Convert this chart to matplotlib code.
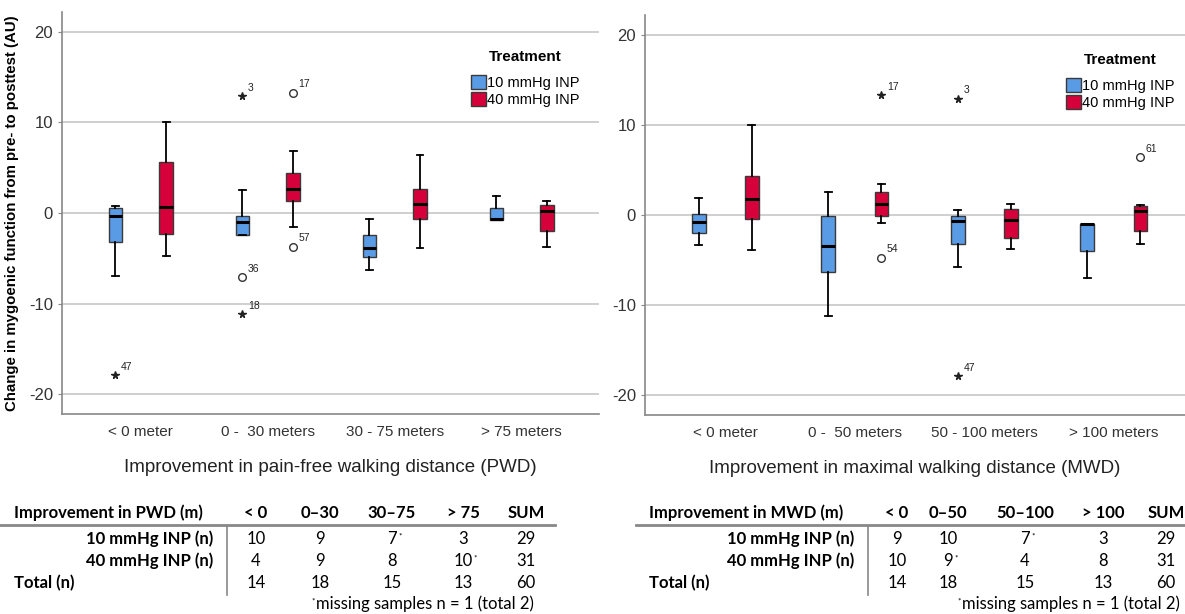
import matplotlib
matplotlib.use("Agg")
import matplotlib.pyplot as plt
from matplotlib.patches import Patch
from matplotlib.lines import Line2D

# ---- data ----
pwd_cats = ["< 0 meter", "0 -  30 meters", "30 - 75 meters", "> 75 meters"]
mwd_cats = ["< 0 meter", "0 -  50 meters", "50 - 100 meters", "> 100 meters"]
treatments = ["10 mmHg INP", "40 mmHg INP"]

pwd_10_whislo = [-7.0, -2.43, -6.33, -0.8]
pwd_10_q1 = [-3.24, -2.43, -4.9, -0.77]
pwd_10_med = [-0.37, -0.96, -3.87, -0.66]
pwd_10_q3 = [0.55, -0.37, -2.47, 0.55]
pwd_10_whishi = [0.81, 2.5, -0.63, 1.9]

pwd_40_whislo = [-4.75, -1.5, -3.87, -3.76]
pwd_40_q1 = [-2.3, 1.3, -0.66, -2.0]
pwd_40_med = [0.7, 2.6, 1.0, 0.22]
pwd_40_q3 = [5.6, 4.4, 2.6, 0.85]
pwd_40_whishi = [10.05, 6.9, 6.4, 1.36]

# outliers: (value, case number, marker)
pwd_10_out = [[(-17.9, "47", "*")], [(12.9, "3", "*"), (-7.1, "36", "o"), (-11.2, "18", "*")], [], []]
pwd_40_out = [[], [(13.3, "17", "o"), (-3.7, "57", "o")], [], []]

mwd_10_whislo = [-3.33, -11.24, -5.8, -7.0]
mwd_10_q1 = [-1.96, -6.36, -3.25, -4.0]
mwd_10_med = [-0.78, -3.44, -0.63, -1.04]
mwd_10_q3 = [0.07, -0.1, -0.07, -1.04]
mwd_10_whishi = [1.9, 2.5, 0.55, -1.04]

mwd_40_whislo = [-3.85, -0.92, -3.77, -3.18]
mwd_40_q1 = [-0.4, -0.07, -2.5, -1.77]
mwd_40_med = [1.74, 1.22, -0.6, 0.48]
mwd_40_q3 = [4.3, 2.6, 0.67, 0.96]
mwd_40_whishi = [10.0, 3.4, 1.26, 1.15]

mwd_10_out = [[], [], [(12.9, "3", "*"), (-17.9, "47", "*")], []]
mwd_40_out = [[], [(13.3, "17", "*"), (-4.77, "54", "o")], [], [(6.4, "61", "o")]]

# tables
pwd_tab_head = ["Improvement in PWD (m)", "< 0", "0–30", "30–75", "> 75", "SUM"]
pwd_tab_10 = ["10", "9", "7*", "3", "29"]
pwd_tab_40 = ["4", "9", "8", "10*", "31"]
pwd_tab_tot = ["14", "18", "15", "13", "60"]

mwd_tab_head = ["Improvement in MWD (m)", "< 0", "0–50", "50–100", "> 100", "SUM"]
mwd_tab_10 = ["9", "10", "7*", "3", "29"]
mwd_tab_40 = ["10", "9*", "4", "8", "31"]
mwd_tab_tot = ["14", "18", "15", "13", "60"]

row_labels = ["10 mmHg INP (n)", "40 mmHg INP (n)", "Total (n)"]
footnote = "missing samples n = 1 (total 2)"

blue = "#5a9be6"
red = "#d6003a"
W, H = 1185, 614

plt.rcParams["font.family"] = ["Liberation Sans", "DejaVu Sans"]
plt.rcParams["axes.unicode_minus"] = False
fig = plt.figure(figsize=(W / 100, H / 100), dpi=100)


def px(x, y):
    return x / W, 1 - y / H


def make_stats(lo, q1, med, q3, hi):
    return [dict(whislo=a, q1=b, med=c, q3=d, whishi=e, fliers=[])
            for a, b, c, d, e in zip(lo, q1, med, q3, hi)]


def panel(rect, cats, s10, s40, out10, out40, xlabel, xlim, off, legx):
    ax = fig.add_axes(rect)
    for stats, outs, col, sign in [(s10, out10, blue, -1), (s40, out40, red, 1)]:
        pos = [i + sign * off for i in range(len(cats))]
        ax.bxp(stats, positions=pos, widths=0.105, capwidths=0.055, patch_artist=True,
               showfliers=False,
               boxprops=dict(facecolor=col, edgecolor="#3a3a3a", linewidth=1.0),
               medianprops=dict(color="black", linewidth=2.2),
               whiskerprops=dict(color="black", linewidth=1.3),
               capprops=dict(color="black", linewidth=1.3), zorder=3)
        for p, group in zip(pos, outs):
            for v, case, m in group:
                if m == "*":
                    ax.plot(p, v, marker="*", color="#222222", ms=5.5, ls="none", zorder=4)
                else:
                    ax.plot(p, v, marker="o", mfc="white", mec="#333333", ms=5.5, mew=1,
                            ls="none", zorder=4)
                ax.annotate(case, (p, v), xytext=(4, 4), textcoords="offset points",
                            fontsize=7.5, color="#222222")
    ax.set_xlim(*xlim)
    ax.set_ylim(-22.2, 22.2)
    ax.set_yticks([-20, -10, 0, 10, 20])
    ax.set_xticks(range(len(cats)))
    ax.set_xticklabels(cats)
    ax.tick_params(axis="x", length=0, pad=8, labelsize=11, labelcolor="#333333")
    ax.tick_params(axis="y", length=3, color="#888888", labelsize=12, labelcolor="#333333")
    ax.yaxis.grid(True, color="#cccccc", lw=1.3, zorder=0)
    ax.set_axisbelow(True)
    for s in ["top", "right"]:
        ax.spines[s].set_visible(False)
    for s in ["left", "bottom"]:
        ax.spines[s].set_color("#888888")
        ax.spines[s].set_linewidth(1.2)
    ax.set_xlabel(xlabel, fontsize=13.5, color="#222222", labelpad=14)
    handles = [Patch(facecolor=blue, edgecolor="#3a3a3a"), Patch(facecolor=red, edgecolor="#3a3a3a")]
    leg = ax.legend(handles, treatments, title="Treatment", loc="upper left",
                    bbox_to_anchor=(legx, 0.905), frameon=False, fontsize=10.5,
                    handlelength=1.0, handleheight=1.1, handletextpad=0.1,
                    labelspacing=0.15, borderpad=0, borderaxespad=0)
    leg.get_title().set_fontweight("bold")
    leg.get_title().set_fontsize(11)
    leg._legend_box.sep = 8
    return ax


ax1 = panel([62 / W, 1 - 414 / H, 537 / W, 402 / H], pwd_cats,
            make_stats(pwd_10_whislo, pwd_10_q1, pwd_10_med, pwd_10_q3, pwd_10_whishi),
            make_stats(pwd_40_whislo, pwd_40_q1, pwd_40_med, pwd_40_q3, pwd_40_whishi),
            pwd_10_out, pwd_40_out,
            "Improvement in pain-free walking distance (PWD)", (-0.62, 3.61), 0.2, 0.762)
ax1.set_ylabel("Change in mygoenic function from pre- to posttest (AU)",
               fontsize=10.8, fontweight="bold", color="black")
ax1.yaxis.set_label_coords(-43 / 537, 0.5)

ax2 = panel([645 / W, 1 - 415 / H, 540 / W, 400 / H], mwd_cats,
            make_stats(mwd_10_whislo, mwd_10_q1, mwd_10_med, mwd_10_q3, mwd_10_whishi),
            make_stats(mwd_40_whislo, mwd_40_q1, mwd_40_med, mwd_40_q3, mwd_40_whishi),
            mwd_10_out, mwd_40_out,
            "Improvement in maximal walking distance (MWD)", (-0.62, 3.55), 0.205, 0.78)


# ---- tables under the plots ----
tfont = ["Lato", "DejaVu Sans"]


def cell(x, y, s, ha="center", weight="normal"):
    star = s.endswith("*")
    s = s.rstrip("*")
    t = fig.text(*px(x, y), s, ha=ha, va="center", fontsize=12, family=tfont,
                 fontweight=weight, color="black")
    if star:
        r = fig.canvas.get_renderer()
        bb = t.get_window_extent(renderer=r)
        fig.text(bb.x1 / W + 0.001, (bb.y1 - 5) / H, "*", fontsize=6, family=tfont,
                 ha="left", va="center")


def table(head, r10, r40, rtot, hx, colx, labx, vx, line, ys, foot):
    cell(hx, ys[0], head[0], ha="left", weight="bold")
    for x, h in zip(colx, head[1:]):
        cell(x, ys[0], h, weight="bold")
    for y, lab, row in zip(ys[1:], row_labels, [r10, r40, rtot]):
        if lab.startswith("Total"):
            cell(hx, y, lab, ha="left", weight="bold")
        else:
            cell(labx, y, lab, ha="right", weight="bold")
        for x, v in zip(colx, row):
            cell(x, y, v)
    fig.add_artist(Line2D([line[0] / W, line[1] / W], [1 - 525 / H] * 2, color="#888888", lw=2))
    fig.add_artist(Line2D([vx / W] * 2, [1 - 527 / H, 1 - 595 / H], color="#888888", lw=1.2))
    fx, ha = foot
    t = fig.text(*px(fx, 604), footnote, ha=ha, va="center", fontsize=12, family=tfont)
    r = fig.canvas.get_renderer()
    bb = t.get_window_extent(renderer=r)
    fig.text(bb.x0 / W - 0.001, (bb.y1 - 5) / H, "*", fontsize=6, family=tfont,
             ha="right", va="center")


table(pwd_tab_head, pwd_tab_10, pwd_tab_40, pwd_tab_tot, 14,
      [256, 320, 392, 463, 526], 213, 227, (0, 555), [513, 539, 561, 583], (316, "left"))
table(mwd_tab_head, mwd_tab_10, mwd_tab_40, mwd_tab_tot, 649,
      [897, 948, 1025, 1103, 1166], 854, 868, (636, 1185), [513, 539, 561, 583], (1180, "right"))

fig.savefig("out.png", dpi=100)
